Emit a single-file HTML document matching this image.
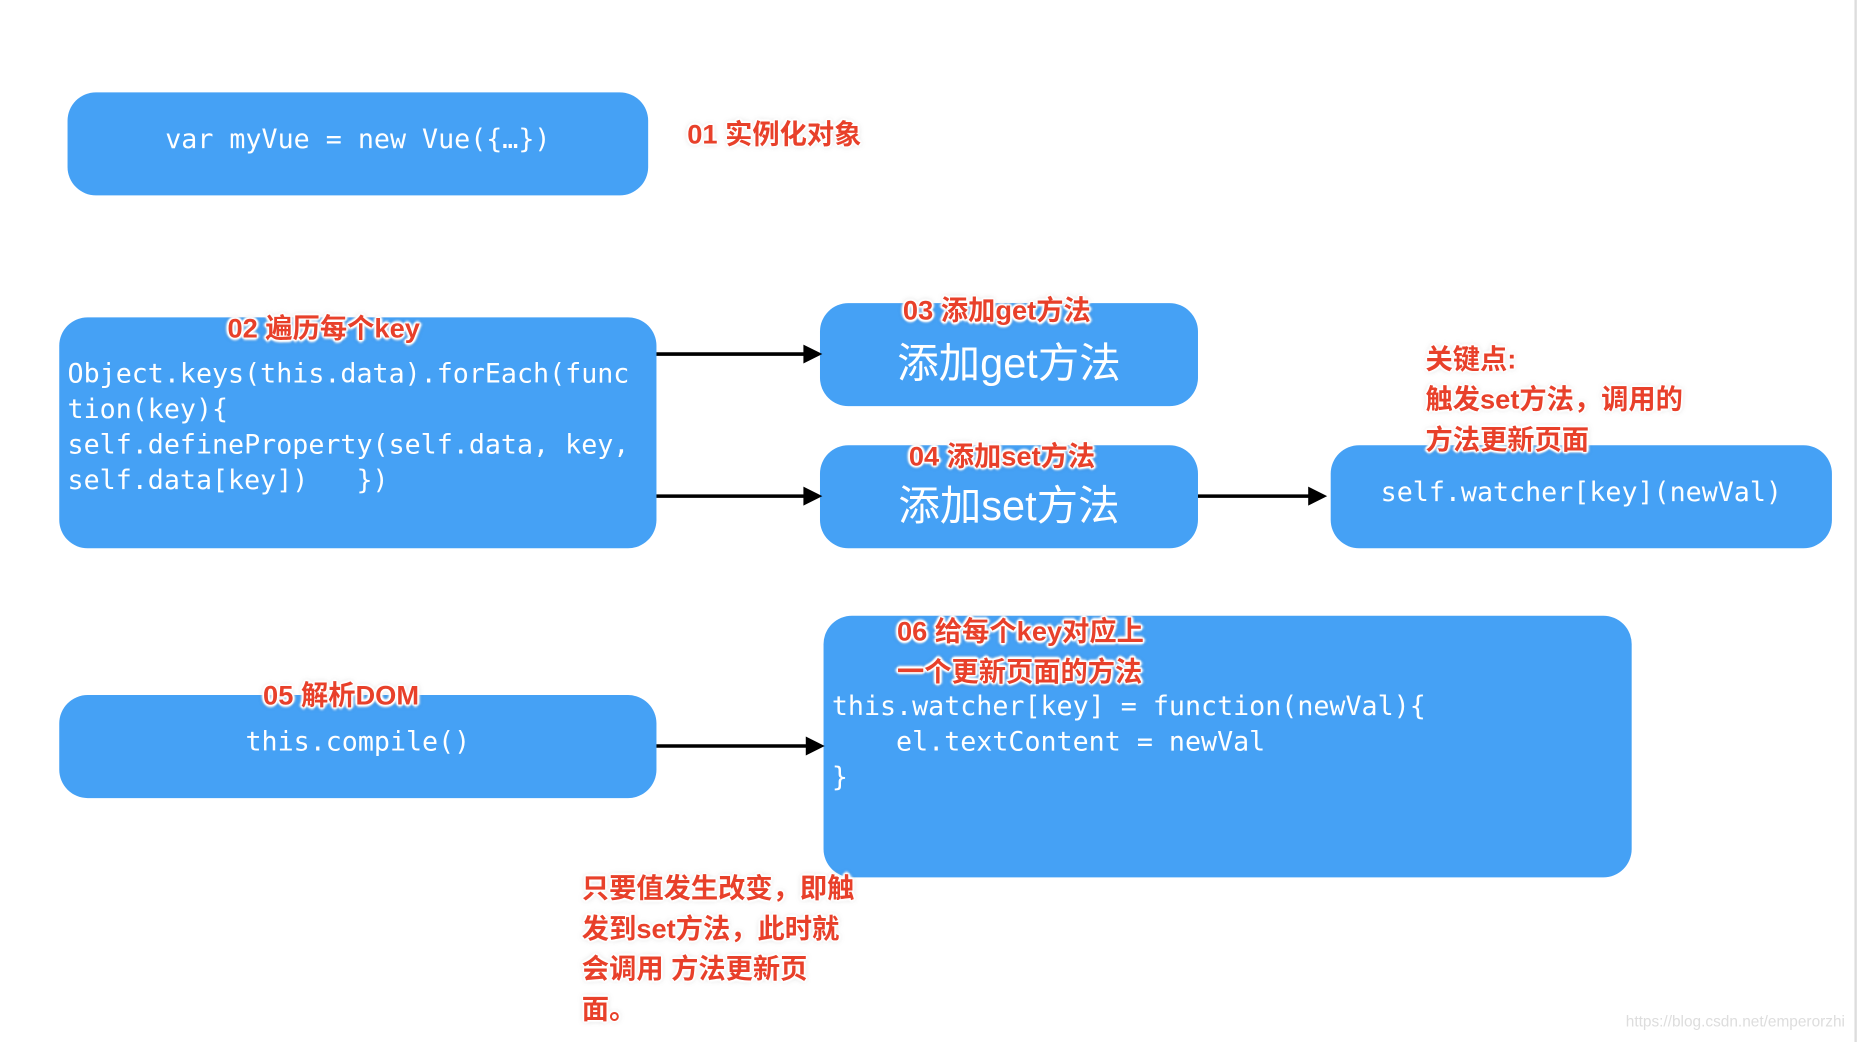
<!DOCTYPE html>
<html><head><meta charset="utf-8"><style>
html,body{margin:0;padding:0;background:#fff;width:1858px;height:1042px;overflow:hidden}
#w{position:absolute;left:0;top:0;width:1568px;height:880px;transform:scale(1.18495,1.18409);transform-origin:0 0}
.b{position:absolute;background:#45a1f5;border-radius:24px}
.m{position:absolute;font-family:"DejaVu Sans Mono","Liberation Mono",monospace;font-size:22.5px;color:#fff;white-space:pre;line-height:30px}
.c{position:absolute;font-family:"Liberation Sans","Noto Sans CJK SC",sans-serif;color:#fff;font-size:35px;white-space:nowrap}
.r{position:absolute;font-family:"Liberation Sans","Noto Sans CJK SC",sans-serif;font-weight:bold;font-size:23px;color:#e8402a;line-height:34px;white-space:pre;
text-shadow:0 0 2px #fff,1px 1px 1px #fff,-1px -1px 1px #fff,1px -1px 1px #fff,-1px 1px 1px #fff,2px 0 2px #fff,-2px 0 2px #fff,0 2px 2px #fff,0 -2px 2px #fff,0 0 5px rgba(0,0,0,.35)}
</style></head><body><div id="w">
<div style="position:absolute;left:1565px;top:0;width:2px;height:880px;background:#ddd"></div>
<div class="b" style="left:57px;top:78px;width:490px;height:87px"></div>
<div class="m" style="left:57px;top:103px;width:490px;text-align:center">var myVue = new Vue({…})</div>
<div class="b" style="left:50px;top:268px;width:504px;height:195px"></div>
<div class="m" style="left:57px;top:301px">Object.keys(this.data).forEach(func
tion(key){
self.defineProperty(self.data, key,
self.data[key])   })</div>
<div class="b" style="left:692px;top:256px;width:319px;height:87px"></div>
<div class="c" style="left:692px;top:279px;width:319px;text-align:center">添加get方法</div>
<div class="b" style="left:692px;top:376px;width:319px;height:87px"></div>
<div class="c" style="left:692px;top:399px;width:319px;text-align:center">添加set方法</div>
<div class="b" style="left:1123px;top:376px;width:423px;height:87px"></div>
<div class="m" style="left:1123px;top:401px;width:423px;text-align:center">self.watcher[key](newVal)</div>
<div class="b" style="left:50px;top:587px;width:504px;height:87px"></div>
<div class="m" style="left:50px;top:612px;width:504px;text-align:center">this.compile()</div>
<div class="b" style="left:695px;top:520px;width:682px;height:221px"></div>
<div class="m" style="left:702px;top:582px">this.watcher[key] = function(newVal){
    el.textContent = newVal
}</div>
<svg style="position:absolute;left:0;top:0" width="1568" height="880">
<g stroke="#000" stroke-width="3"><line x1="554" y1="299" x2="680" y2="299"/><line x1="554" y1="419" x2="680" y2="419"/><line x1="1011" y1="419" x2="1107" y2="419"/><line x1="554" y1="630" x2="682" y2="630"/></g>
<g fill="#000"><polygon points="678,291 694,299 678,307"/><polygon points="678,411 694,419 678,427"/><polygon points="1104,411 1120,419 1104,427"/><polygon points="680,622 696,630 680,638"/></g>
</svg>
<div class="r" style="left:580px;top:96px">01 实例化对象</div>
<div class="r" style="left:192px;top:260px">02 遍历每个key</div>
<div class="r" style="left:762px;top:245px">03 添加get方法</div>
<div class="r" style="left:767px;top:368px">04 添加set方法</div>
<div class="r" style="left:1203px;top:286px">关键点:
触发set方法，调用的
方法更新页面</div>
<div class="r" style="left:757px;top:516px">06 给每个key对应上
一个更新页面的方法</div>
<div class="r" style="left:222px;top:570px">05 解析DOM</div>
<div class="r" style="left:491px;top:733px">只要值发生改变，即触
发到set方法，此时就
会调用 方法更新页
面。</div>
<div style="position:absolute;left:1372px;top:855px;font-family:'Liberation Sans',sans-serif;font-size:13px;color:#ddd">https://blog.csdn.net/emperorzhi</div>
</div></body></html>
